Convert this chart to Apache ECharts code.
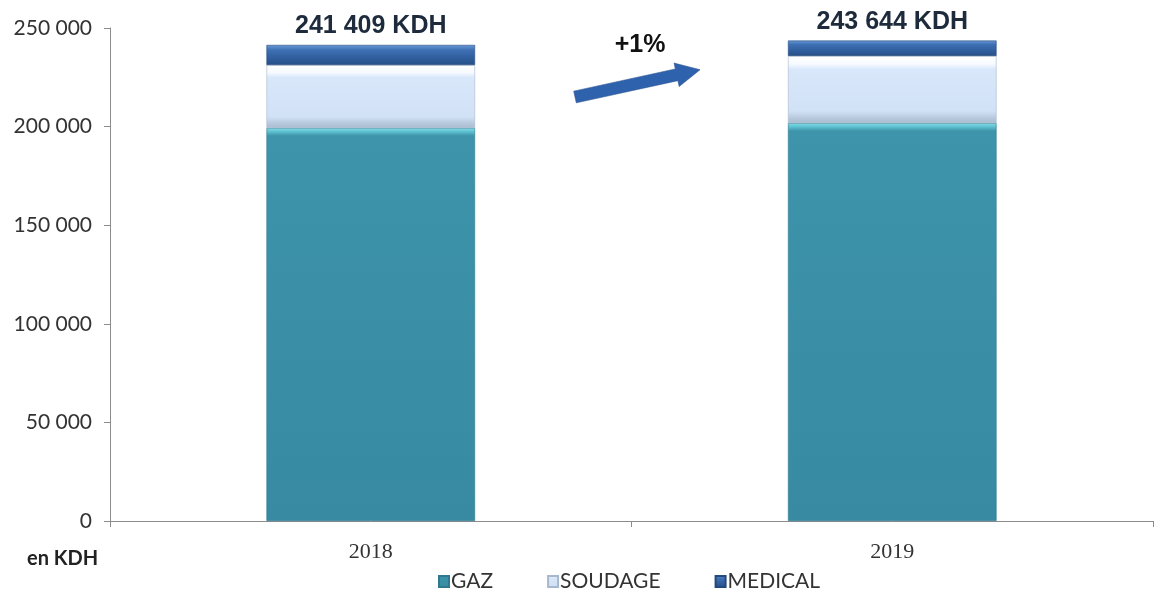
<!DOCTYPE html>
<html>
<head>
<meta charset="utf-8">
<script src="https://cdn.jsdelivr.net/npm/echarts@6/dist/echarts.min.js"></script>
<style>html,body{margin:0;padding:0;background:#fff}#c{width:1155px;height:591px}</style>
</head>
<body>
<div id="c"></div>
<script>
const categories = ['2018', '2019'];
const gaz = [199300, 201800];
const soudage = [31900, 34000];
const medical = [10209, 7844];
const totals = [241409, 243644];
const seriesNames = ['GAZ', 'SOUDAGE', 'MEDICAL'];
const growthLabel = '+1%';
const unitLabel = 'en KDH';

function fmt(v) {
  return String(v).replace(/\B(?=(\d{3})+(?!\d))/g, ' ');
}
function vgrad(stops) {
  return new echarts.graphic.LinearGradient(0, 0, 0, 1, stops.map(s => ({offset: s[0], color: s[1]})));
}

const chart = echarts.init(document.getElementById('c'), null, {renderer: 'canvas'});
const option = {
  animation: false,
  grid: {left: 110, right: 2, top: 28, bottom: 70, containLabel: false},
  legend: {
    top: 566, left: 433,
    itemWidth: 10, itemHeight: 11, itemGap: 54,
    icon: 'rect',
    textStyle: {fontFamily: 'Lato, "Open Sans", sans-serif', fontSize: 21, color: '#333', padding: [0, 0, 0, -3]},
    data: seriesNames
  },
  xAxis: {
    type: 'category',
    data: categories,
    axisLine: {lineStyle: {color: '#8c8c8c', width: 1}},
    axisTick: {show: true, length: 6, lineStyle: {color: '#8c8c8c'}},
    axisLabel: {margin: 20, fontFamily: '"Liberation Serif", serif', fontSize: 22, color: '#333'}
  },
  yAxis: {
    type: 'value',
    min: 0, max: 250000, interval: 50000,
    splitLine: {show: false},
    axisLine: {show: true, lineStyle: {color: '#8c8c8c', width: 1}},
    axisTick: {show: true, length: 6, lineStyle: {color: '#8c8c8c'}},
    axisLabel: {margin: 18, fontFamily: 'Lato, "Open Sans", sans-serif', fontSize: 21, color: '#333', formatter: v => fmt(v)}
  },
  series: [
    {
      name: 'GAZ', type: 'bar', stack: 'total', barWidth: '40%',
      data: gaz,
      itemStyle: {
        color: vgrad([[0, '#86dbe6'], [0.008, '#62c6d4'], [0.02, '#3d94ab'], [1, '#378aa2']]),
        borderColor: '#2f7890', borderWidth: 0.6
      }
    },
    {
      name: 'SOUDAGE', type: 'bar', stack: 'total',
      data: soudage,
      itemStyle: {
        color: vgrad([[0, '#ffffff'], [0.12, '#f6faff'], [0.2, '#d8e7fa'], [0.82, '#d2e2f6'], [0.92, '#b9cadf'], [1, '#a9bccf']]),
        borderColor: '#a8b8cc', borderWidth: 0.6
      }
    },
    {
      name: 'MEDICAL', type: 'bar', stack: 'total',
      data: medical,
      itemStyle: {
        color: vgrad([[0, '#6a9ad8'], [0.25, '#3e70b4'], [0.75, '#2d5a98'], [1, '#274f86']]),
        borderColor: '#25497c', borderWidth: 0.6
      },
      label: {
        show: true, position: 'top', distance: 6,
        fontFamily: '"Liberation Sans", Arial, sans-serif', fontWeight: 'bold', fontSize: 25, color: '#1e2b3c',
        formatter: p => fmt(totals[p.dataIndex]) + ' KDH'
      }
    }
  ],
  graphic: [
    {
      type: 'text', left: 27, top: 549,
      style: {text: unitLabel, fontFamily: 'Lato, "Open Sans", sans-serif', fontWeight: 'bold', fontSize: 20, fill: '#222'}
    },
    {
      type: 'text', x: 640, y: 45,
      style: {text: growthLabel, fontFamily: '"Liberation Sans", Arial, sans-serif', fontWeight: 'bold', fontSize: 25, fill: '#111', align: 'center', verticalAlign: 'middle'}
    },
    {
      type: 'polygon', x: 575, y: 97, rotation: 0.215,
      shape: {points: [[0, -6], [104, -6], [104, -12], [128, 0], [104, 12], [104, 6], [0, 6]]},
      style: {fill: '#2f62ad', stroke: '#284f8c', lineWidth: 0.5}
    }
  ]
};
chart.setOption(option);
</script>
</body>
</html>
